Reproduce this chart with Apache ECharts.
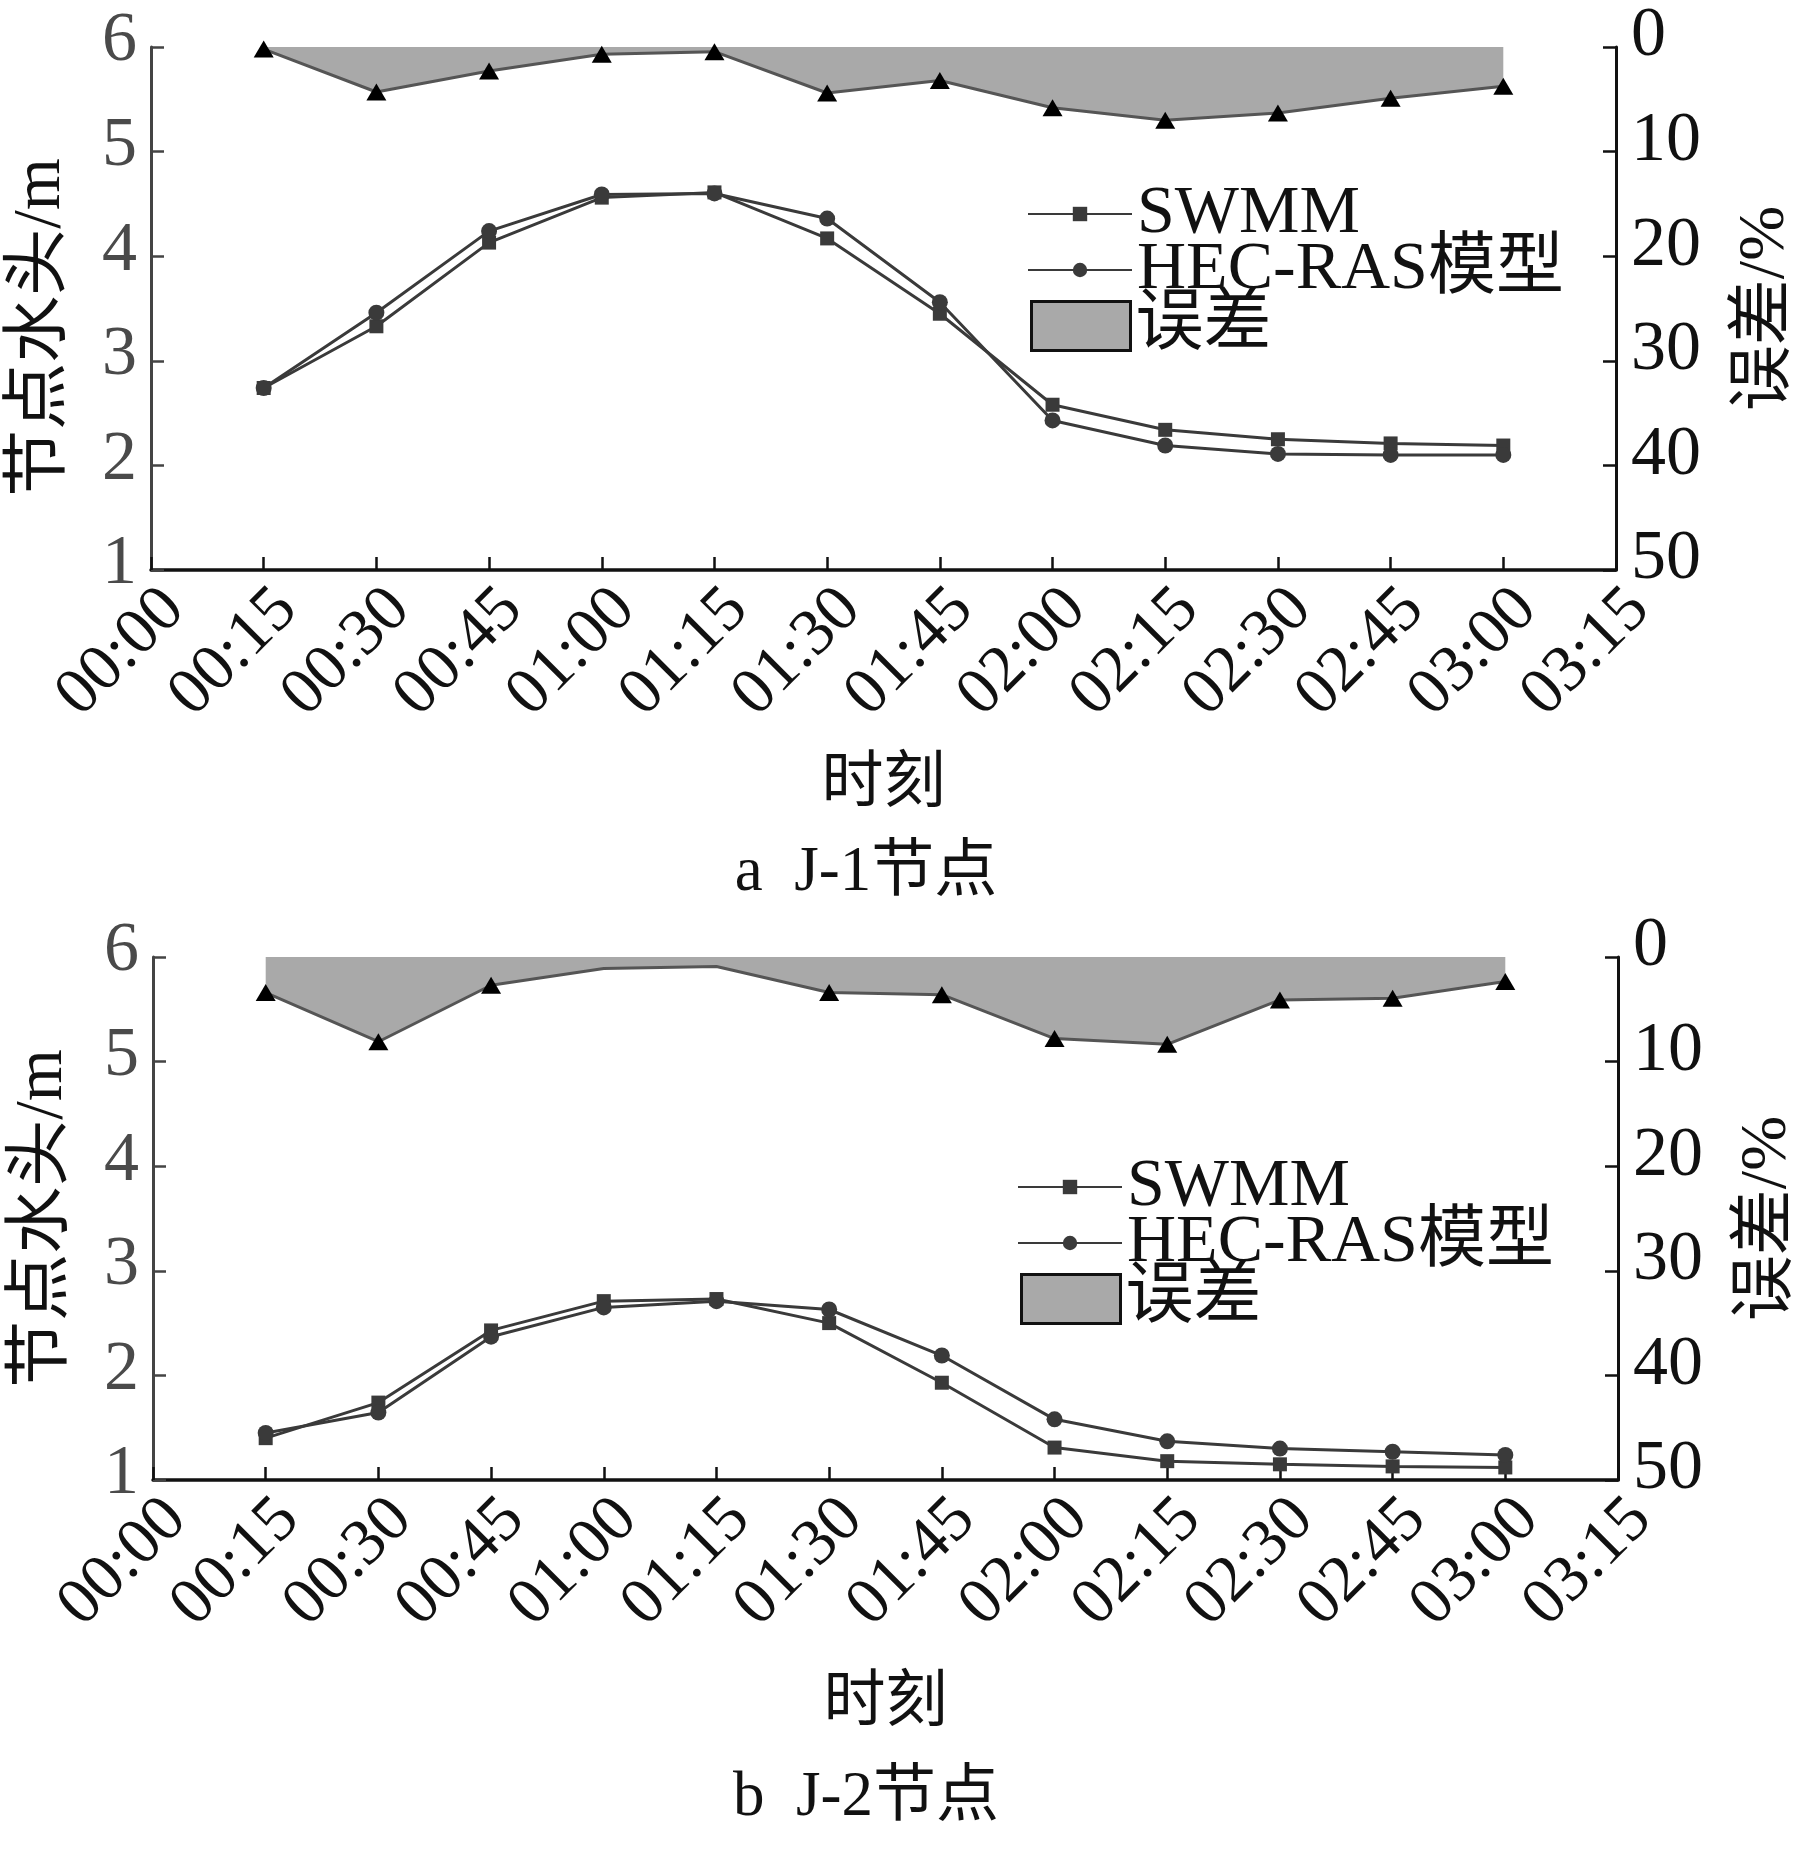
<!DOCTYPE html>
<html>
<head>
<meta charset="utf-8">
<script src="https://cdn.jsdelivr.net/npm/echarts@6/dist/echarts.min.js"></script>
<style>
html, body { margin: 0; padding: 0; background: #fff; }
#chart { width: 1817px; height: 1849px; }
</style>
</head>
<body>
<div id="chart"></div>
<script>
// sample times
let times = ['00:15', '00:30', '00:45', '01:00', '01:15', '01:30', '01:45', '02:00', '02:15', '02:30', '02:45', '03:00'];

// J-1 node head (m) and error (%)
let swmmJ1 = [2.74, 3.33, 4.13, 4.56, 4.61, 4.17, 3.45, 2.58, 2.34, 2.25, 2.21, 2.19];
let hecJ1 = [2.74, 3.46, 4.24, 4.59, 4.60, 4.36, 3.56, 2.43, 2.19, 2.11, 2.10, 2.10];
let errJ1 = [0.2, 4.3, 2.3, 0.7, 0.45, 4.4, 3.2, 5.8, 7.0, 6.3, 4.9, 3.75];

// J-2 node head (m) and error (%)
let swmmJ2 = [1.40, 1.74, 2.43, 2.71, 2.73, 2.50, 1.93, 1.31, 1.18, 1.15, 1.13, 1.12];
let hecJ2 = [1.45, 1.645, 2.37, 2.65, 2.71, 2.63, 2.19, 1.58, 1.37, 1.30, 1.27, 1.24];
let errJ2 = [3.4, 8.1, 2.7, 1.1, 0.9, 3.4, 3.6, 7.8, 8.35, 4.1, 3.95, 2.35];

// text
let seriesNames = ['SWMM', 'HEC-RAS模型', '误差'];
let captions = ['a  J-1节点', 'b  J-2节点'];

let myChart = echarts.init(document.getElementById('chart'));

const SERIF = '"Liberation Serif", "Times New Roman", "Noto Sans CJK SC", serif';
const LINE_C = '#3a3a3a';

// minutes since 00:00
let minutes = times.map(function (t) {
    let p = t.split(':');
    return parseInt(p[0], 10) * 60 + parseInt(p[1], 10);
});
function hhmm(v) {
    let h = Math.floor(v / 60), m = v % 60;
    return (h < 10 ? '0' : '') + h + ':' + (m < 10 ? '0' : '') + m;
}
function pairs(vals) {
    return vals.map(function (v, i) { return [minutes[i], v]; });
}

// layout of the two panels
let panels = [
    { left: 151, right: 201, top: 47, nameGap: 185, leftPad: [0, 38, 0, 0], legendX: 1027, legendY: 212, capY: 873,
      swmm: swmmJ1, hec: hecJ1, err: errJ1, noTri: [] },
    { left: 153, right: 199, top: 957, nameGap: 194, leftPad: 0, legendX: 1017, legendY: 1185, capY: 1798,
      swmm: swmmJ2, hec: hecJ2, err: errJ2, noTri: [3, 4] },
];

let grid = [], xAxis = [], yAxis = [], series = [], legend = [], title = [];

panels.forEach(function (p, g) {
    grid.push({ left: p.left, right: p.right, top: p.top, height: 523, outerBoundsMode: 'none' });

    xAxis.push({
        gridIndex: g,
        type: 'value',
        min: 0, max: 195, interval: 15,
        name: '时刻',
        nameLocation: 'middle',
        nameGap: p.nameGap,
        nameTextStyle: { fontSize: 62, color: '#111', fontFamily: SERIF },
        axisLine: { onZero: false, lineStyle: { color: '#111', width: 3.5 } },
        axisTick: { inside: true, length: 13, lineStyle: { color: '#111', width: 2.5 } },
        axisLabel: {
            rotate: 45, margin: 6, fontSize: 66, color: '#111', fontFamily: SERIF,
            verticalAlign: 'top',
            formatter: function (v) { return hhmm(v); }
        },
        splitLine: { show: false }
    });

    yAxis.push({
        gridIndex: g,
        type: 'value',
        min: 1, max: 6, interval: 1,
        position: 'left',
        name: '节点水头/m',
        nameLocation: 'middle',
        nameGap: 76,
        nameRotate: 90,
        nameTextStyle: { fontSize: 67, color: '#111', fontFamily: SERIF, padding: p.leftPad },
        axisLine: { show: true, onZero: false, lineStyle: { color: '#444', width: 3 } },
        axisTick: { show: true, inside: true, length: 13, lineStyle: { color: '#444', width: 2.5 } },
        axisLabel: { margin: 14, fontSize: 70, color: '#4a4a4a', fontFamily: SERIF, verticalAlign: 'bottom', lineHeight: 10 },
        splitLine: { show: false }
    });
    yAxis.push({
        gridIndex: g,
        type: 'value',
        min: 0, max: 50, interval: 10,
        inverse: true,
        position: 'right',
        name: '误差/%',
        nameLocation: 'middle',
        nameGap: 117,
        nameRotate: 90,
        nameTextStyle: { fontSize: 66, color: '#111', fontFamily: SERIF },
        axisLine: { show: true, onZero: false, lineStyle: { color: '#111', width: 3 } },
        axisTick: { show: true, inside: true, length: 13, lineStyle: { color: '#111', width: 2.5 } },
        axisLabel: { margin: 15, fontSize: 70, color: '#111', fontFamily: SERIF, verticalAlign: 'bottom', lineHeight: 20 },
        splitLine: { show: false }
    });

    series.push({
        name: seriesNames[0], type: 'line',
        xAxisIndex: g, yAxisIndex: g * 2,
        data: pairs(p.swmm),
        symbol: 'rect', symbolSize: 14,
        lineStyle: { color: LINE_C, width: 3 },
        itemStyle: { color: LINE_C },
        z: 3
    });
    series.push({
        name: seriesNames[1], type: 'line',
        xAxisIndex: g, yAxisIndex: g * 2,
        data: pairs(p.hec),
        symbol: 'circle', symbolSize: 16,
        lineStyle: { color: LINE_C, width: 3 },
        itemStyle: { color: LINE_C },
        z: 3
    });
    series.push({
        name: seriesNames[2], type: 'line',
        xAxisIndex: g, yAxisIndex: g * 2 + 1,
        data: pairs(p.err),
        symbol: 'triangle',
        symbolSize: function (v, params) {
            return p.noTri.indexOf(params.dataIndex) >= 0 ? 0 : [20, 17];
        },
        lineStyle: { color: '#555', width: 3 },
        itemStyle: { color: '#000' },
        areaStyle: { color: '#a9a9a9', opacity: 1 },
        z: 2
    });

    // legend rows, one per item so each can be placed
    let txt = { fontSize: 68, color: '#111', fontFamily: SERIF };
    legend.push({
        data: [seriesNames[0]], left: p.legendX, top: p.legendY - 32, padding: 0,
        itemWidth: 104, itemHeight: 18, textStyle: txt, selectedMode: false
    });
    legend.push({
        data: [seriesNames[1]], left: p.legendX, top: p.legendY + 56 - 32, padding: 0,
        itemWidth: 104, itemHeight: 18, textStyle: txt, selectedMode: false
    });
    legend.push({
        data: [{ name: seriesNames[2], icon: 'rect' }], left: p.legendX + 3, top: p.legendY + 80, padding: 0,
        itemWidth: 99, itemHeight: 49, textStyle: txt, selectedMode: false,
        itemStyle: { color: '#a9a9a9', borderColor: '#111', borderWidth: 3 }
    });

    title.push({
        text: captions[g], left: 866, top: p.capY, padding: 0,
        textAlign: 'center', textVerticalAlign: 'middle',
        textStyle: { fontSize: 63, fontWeight: 'normal', color: '#111', fontFamily: SERIF }
    });
});

myChart.setOption({
    backgroundColor: '#fff',
    animation: false,
    title: title,
    legend: legend,
    grid: grid,
    xAxis: xAxis,
    yAxis: yAxis,
    series: series
});
</script>
</body>
</html>
